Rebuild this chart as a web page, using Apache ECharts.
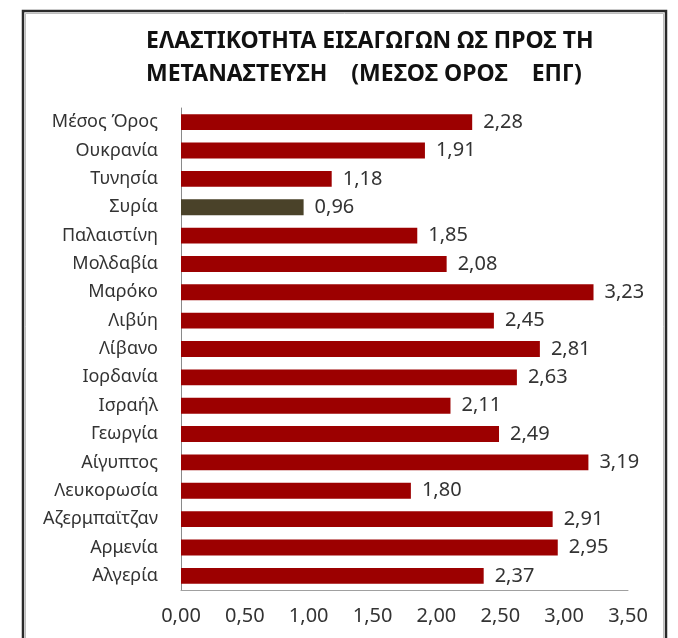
<!DOCTYPE html>
<html>
<head>
<meta charset="utf-8">
<script src="https://cdn.jsdelivr.net/npm/echarts@6/dist/echarts.min.js"></script>
<style>
  html, body { margin: 0; padding: 0; background: #fff; }
  #chart { width: 678px; height: 638px; }
</style>
</head>
<body>
<div id="chart"></div>
<script>
// Countries, listed top to bottom
const countries = [
  'Μέσος Όρος', 'Ουκρανία', 'Τυνησία', 'Συρία', 'Παλαιστίνη', 'Μολδαβία',
  'Μαρόκο', 'Λιβύη', 'Λίβανο', 'Ιορδανία', 'Ισραήλ', 'Γεωργία',
  'Αίγυπτος', 'Λευκορωσία', 'Αζερμπαϊτζαν', 'Αρμενία', 'Αλγερία'
];
// Import elasticity with respect to migration
const elasticity = [
  2.28, 1.91, 1.18, 0.96, 1.85, 2.08,
  3.23, 2.45, 2.81, 2.63, 2.11, 2.49,
  3.19, 1.80, 2.91, 2.95, 2.37
];
const highlighted = 'Συρία';
const axisMin = 0;
const axisMax = 3.5;
const axisStep = 0.5;

const fmt = v => v.toFixed(2).replace('.', ',');
const FONT = '"Noto Sans", sans-serif';

const chart = echarts.init(document.getElementById('chart'), null, { renderer: 'canvas' });

chart.setOption({
  animation: false,
  backgroundColor: '#ffffff',
  title: {
    text: 'ΕΛΑΣΤΙΚΟΤΗΤΑ ΕΙΣΑΓΩΓΩΝ ΩΣ ΠΡΟΣ ΤΗ\nΜΕΤΑΝΑΣΤΕΥΣΗ    (ΜΕΣΟΣ ΟΡΟΣ    ΕΠΓ)',
    left: 146,
    top: 25,
    padding: 0,
    textStyle: {
      fontFamily: FONT,
      fontWeight: 'bold',
      fontSize: 23,
      lineHeight: 33,
      color: '#111111'
    }
  },
  graphic: [
    {
      type: 'rect',
      shape: { x: 23, y: 11, width: 643, height: 650 },
      style: { fill: 'none', stroke: '#2a2a2a', lineWidth: 2.5 },
      silent: true
    },
    {
      type: 'rect',
      shape: { x: 25.5, y: 13.5, width: 638, height: 650 },
      style: { fill: 'none', stroke: '#bdbdbd', lineWidth: 1 },
      silent: true
    }
  ],
  grid: { left: 181, right: 50, top: 108, bottom: 48, containLabel: false },
  xAxis: {
    type: 'value',
    min: axisMin,
    max: axisMax,
    interval: axisStep,
    axisLine: { show: true, lineStyle: { color: '#a0a0a0', width: 1 } },
    axisTick: { show: false },
    splitLine: { show: false },
    axisLabel: {
      margin: 16,
      fontFamily: FONT,
      fontSize: 20,
      color: '#333333',
      formatter: v => fmt(v)
    }
  },
  yAxis: {
    type: 'category',
    inverse: true,
    data: countries,
    axisLine: { show: true, lineStyle: { color: '#8a8a8a', width: 1 } },
    axisTick: { show: false },
    axisLabel: {
      margin: 23,
      fontFamily: FONT,
      fontSize: 18,
      color: '#333333'
    }
  },
  series: [{
    type: 'bar',
    barCategoryGap: '44%',
    data: elasticity.map((v, i) => ({
      value: v,
      itemStyle: { color: countries[i] === highlighted ? '#4a4229' : '#9c0000' }
    })),
    label: {
      show: true,
      position: 'right',
      distance: 11,
      fontFamily: FONT,
      fontSize: 20,
      color: '#333333',
      formatter: p => fmt(p.value)
    }
  }]
});
</script>
</body>
</html>
